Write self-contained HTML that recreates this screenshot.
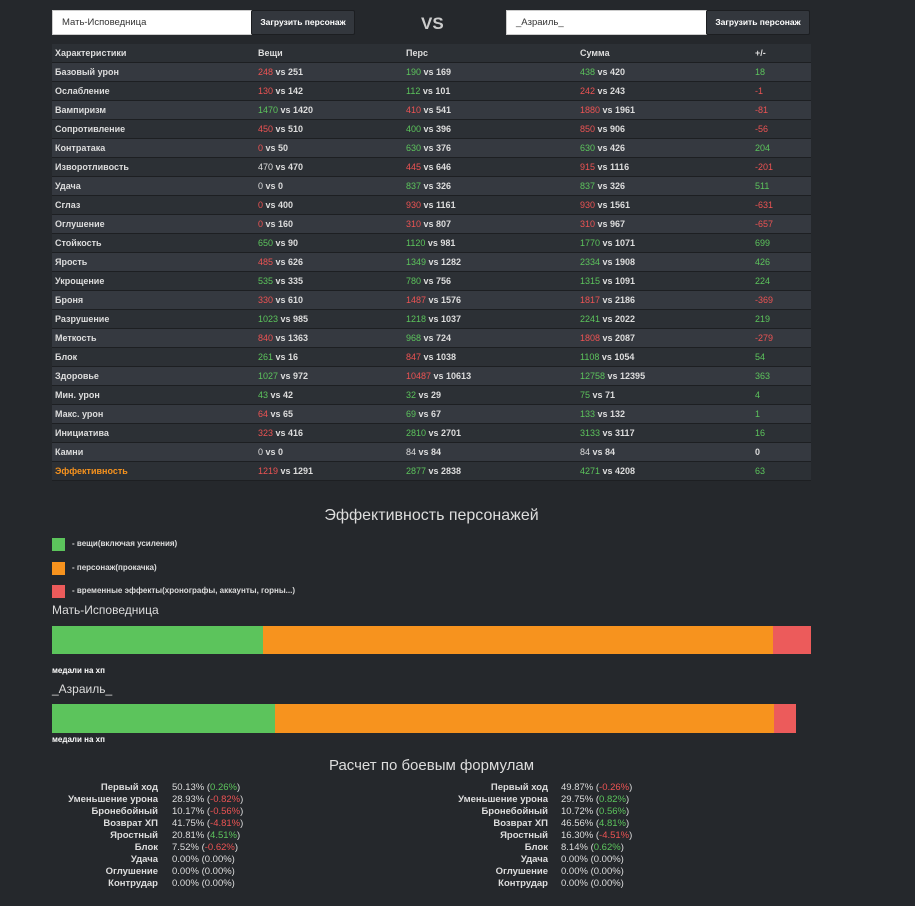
<!DOCTYPE html>
<html><head><meta charset="utf-8"><style>
body{margin:0;background:#25282c;width:915px;height:906px;position:relative;overflow:hidden;font-family:"Liberation Sans",sans-serif;color:#ddd}
.a{position:absolute}
.inp{background:#fff;color:#333;font-size:9.5px;line-height:24px;padding-left:9px;box-sizing:border-box;height:25px;border:1px solid #ccc}
.btn{background:#33373d;color:#fff;font-size:8.5px;font-weight:bold;line-height:23px;text-align:center;border:1px solid #1c1e21;height:25px;box-sizing:border-box;border-radius:2px}
table{position:absolute;left:52px;top:44px;width:759px;border-collapse:collapse;font-size:9px;font-weight:bold;color:#ddd}
td{height:18px;border-bottom:1px solid #1d1f22;padding:0 0 0 3px;white-space:nowrap}
tr:nth-child(odd){background:#2c3035}
tr:nth-child(even){background:#353940}
tr:first-child{background:#2c3035}
.g{color:#5cc45c;font-weight:normal}.r{color:#ec5353;font-weight:normal}.n{font-weight:normal}
.leg{width:13px;height:13px}
.lt{font-size:8px;font-weight:bold;color:#ddd}
.f{font-size:9.5px;line-height:12px;color:#ddd}
.f.l{text-align:right;font-weight:bold}
</style></head><body>
<div class="a inp" style="left:52px;top:10px;width:200px">Мать-Исповедница</div>
<div class="a btn" style="left:251px;top:10px;width:104px">Загрузить персонаж</div>
<div class="a" style="left:421px;top:14px;font-size:17px;font-weight:bold;color:#ccc">VS</div>
<div class="a inp" style="left:506px;top:10px;width:201px">_Азраиль_</div>
<div class="a btn" style="left:706px;top:10px;width:104px">Загрузить персонаж</div>
<table>
<colgroup><col style="width:203px"><col style="width:148px"><col style="width:174px"><col style="width:175px"><col></colgroup>
<tr><td>Характеристики</td><td>Вещи</td><td>Перс</td><td>Сумма</td><td>+/-</td></tr>
<tr><td>Базовый урон</td><td><span class="r">248</span> vs 251</td><td><span class="g">190</span> vs 169</td><td><span class="g">438</span> vs 420</td><td class="g">18</td></tr>
<tr><td>Ослабление</td><td><span class="r">130</span> vs 142</td><td><span class="g">112</span> vs 101</td><td><span class="r">242</span> vs 243</td><td class="r">-1</td></tr>
<tr><td>Вампиризм</td><td><span class="g">1470</span> vs 1420</td><td><span class="r">410</span> vs 541</td><td><span class="r">1880</span> vs 1961</td><td class="r">-81</td></tr>
<tr><td>Сопротивление</td><td><span class="r">450</span> vs 510</td><td><span class="g">400</span> vs 396</td><td><span class="r">850</span> vs 906</td><td class="r">-56</td></tr>
<tr><td>Контратака</td><td><span class="r">0</span> vs 50</td><td><span class="g">630</span> vs 376</td><td><span class="g">630</span> vs 426</td><td class="g">204</td></tr>
<tr><td>Изворотливость</td><td><span class="n">470</span> vs 470</td><td><span class="r">445</span> vs 646</td><td><span class="r">915</span> vs 1116</td><td class="r">-201</td></tr>
<tr><td>Удача</td><td><span class="n">0</span> vs 0</td><td><span class="g">837</span> vs 326</td><td><span class="g">837</span> vs 326</td><td class="g">511</td></tr>
<tr><td>Сглаз</td><td><span class="r">0</span> vs 400</td><td><span class="r">930</span> vs 1161</td><td><span class="r">930</span> vs 1561</td><td class="r">-631</td></tr>
<tr><td>Оглушение</td><td><span class="r">0</span> vs 160</td><td><span class="r">310</span> vs 807</td><td><span class="r">310</span> vs 967</td><td class="r">-657</td></tr>
<tr><td>Стойкость</td><td><span class="g">650</span> vs 90</td><td><span class="g">1120</span> vs 981</td><td><span class="g">1770</span> vs 1071</td><td class="g">699</td></tr>
<tr><td>Ярость</td><td><span class="r">485</span> vs 626</td><td><span class="g">1349</span> vs 1282</td><td><span class="g">2334</span> vs 1908</td><td class="g">426</td></tr>
<tr><td>Укрощение</td><td><span class="g">535</span> vs 335</td><td><span class="g">780</span> vs 756</td><td><span class="g">1315</span> vs 1091</td><td class="g">224</td></tr>
<tr><td>Броня</td><td><span class="r">330</span> vs 610</td><td><span class="r">1487</span> vs 1576</td><td><span class="r">1817</span> vs 2186</td><td class="r">-369</td></tr>
<tr><td>Разрушение</td><td><span class="g">1023</span> vs 985</td><td><span class="g">1218</span> vs 1037</td><td><span class="g">2241</span> vs 2022</td><td class="g">219</td></tr>
<tr><td>Меткость</td><td><span class="r">840</span> vs 1363</td><td><span class="g">968</span> vs 724</td><td><span class="r">1808</span> vs 2087</td><td class="r">-279</td></tr>
<tr><td>Блок</td><td><span class="g">261</span> vs 16</td><td><span class="r">847</span> vs 1038</td><td><span class="g">1108</span> vs 1054</td><td class="g">54</td></tr>
<tr><td>Здоровье</td><td><span class="g">1027</span> vs 972</td><td><span class="r">10487</span> vs 10613</td><td><span class="g">12758</span> vs 12395</td><td class="g">363</td></tr>
<tr><td>Мин. урон</td><td><span class="g">43</span> vs 42</td><td><span class="g">32</span> vs 29</td><td><span class="g">75</span> vs 71</td><td class="g">4</td></tr>
<tr><td>Макс. урон</td><td><span class="r">64</span> vs 65</td><td><span class="g">69</span> vs 67</td><td><span class="g">133</span> vs 132</td><td class="g">1</td></tr>
<tr><td>Инициатива</td><td><span class="r">323</span> vs 416</td><td><span class="g">2810</span> vs 2701</td><td><span class="g">3133</span> vs 3117</td><td class="g">16</td></tr>
<tr><td>Камни</td><td><span class="n">0</span> vs 0</td><td><span class="n">84</span> vs 84</td><td><span class="n">84</span> vs 84</td><td>0</td></tr>
<tr><td style="color:#f7931e">Эффективность</td><td><span class="r">1219</span> vs 1291</td><td><span class="g">2877</span> vs 2838</td><td><span class="g">4271</span> vs 4208</td><td class="g">63</td></tr>
</table>
<div class="a" style="left:0;width:863px;top:507px;text-align:center;font-size:16px;color:#ddd">Эффективность персонажей</div>
<div class="a leg" style="left:52px;top:538px;background:#5cc45c"></div><div class="a lt" style="left:72px;top:539px">- вещи(включая усиления)</div>
<div class="a leg" style="left:52px;top:562px;background:#f7931e"></div><div class="a lt" style="left:72px;top:563px">- персонаж(прокачка)</div>
<div class="a leg" style="left:52px;top:585px;background:#ec5b5b"></div><div class="a lt" style="left:72px;top:586px">- временные эффекты(хронографы, аккаунты, горны...)</div>
<div class="a" style="left:52px;top:603px;font-size:12px;color:#ddd">Мать-Исповедница</div>
<div class="a" style="left:52px;top:626px;width:211px;height:28px;background:#5cc45c"></div>
<div class="a" style="left:263px;top:626px;width:510px;height:28px;background:#f7931e"></div>
<div class="a" style="left:773px;top:626px;width:38px;height:28px;background:#ec5b5b"></div>
<div class="a lt" style="left:52px;top:666px;color:#fff">медали на хп</div>
<div class="a" style="left:52px;top:682px;font-size:12px;color:#ddd">_Азраиль_</div>
<div class="a" style="left:52px;top:704px;width:223px;height:29px;background:#5cc45c"></div>
<div class="a" style="left:275px;top:704px;width:499px;height:29px;background:#f7931e"></div>
<div class="a" style="left:774px;top:704px;width:22px;height:29px;background:#ec5b5b"></div>
<div class="a lt" style="left:52px;top:735px;color:#fff">медали на хп</div>
<div class="a" style="left:0;width:863px;top:757px;text-align:center;font-size:15px;color:#ddd">Расчет по боевым формулам</div>
<div class="a f l" style="right:757px;top:782px">Первый ход<br>Уменьшение урона<br>Бронебойный<br>Возврат ХП<br>Яростный<br>Блок<br>Удача<br>Оглушение<br>Контрудар</div>
<div class="a f" style="left:172px;top:782px">50.13% (<span class="g">0.26%</span>)<br>28.93% (<span class="r">-0.82%</span>)<br>10.17% (<span class="r">-0.56%</span>)<br>41.75% (<span class="r">-4.81%</span>)<br>20.81% (<span class="g">4.51%</span>)<br>7.52% (<span class="r">-0.62%</span>)<br>0.00% (0.00%)<br>0.00% (0.00%)<br>0.00% (0.00%)</div>
<div class="a f l" style="right:367px;top:782px">Первый ход<br>Уменьшение урона<br>Бронебойный<br>Возврат ХП<br>Яростный<br>Блок<br>Удача<br>Оглушение<br>Контрудар</div>
<div class="a f" style="left:561px;top:782px">49.87% (<span class="r">-0.26%</span>)<br>29.75% (<span class="g">0.82%</span>)<br>10.72% (<span class="g">0.56%</span>)<br>46.56% (<span class="g">4.81%</span>)<br>16.30% (<span class="r">-4.51%</span>)<br>8.14% (<span class="g">0.62%</span>)<br>0.00% (0.00%)<br>0.00% (0.00%)<br>0.00% (0.00%)</div>
</body></html>
